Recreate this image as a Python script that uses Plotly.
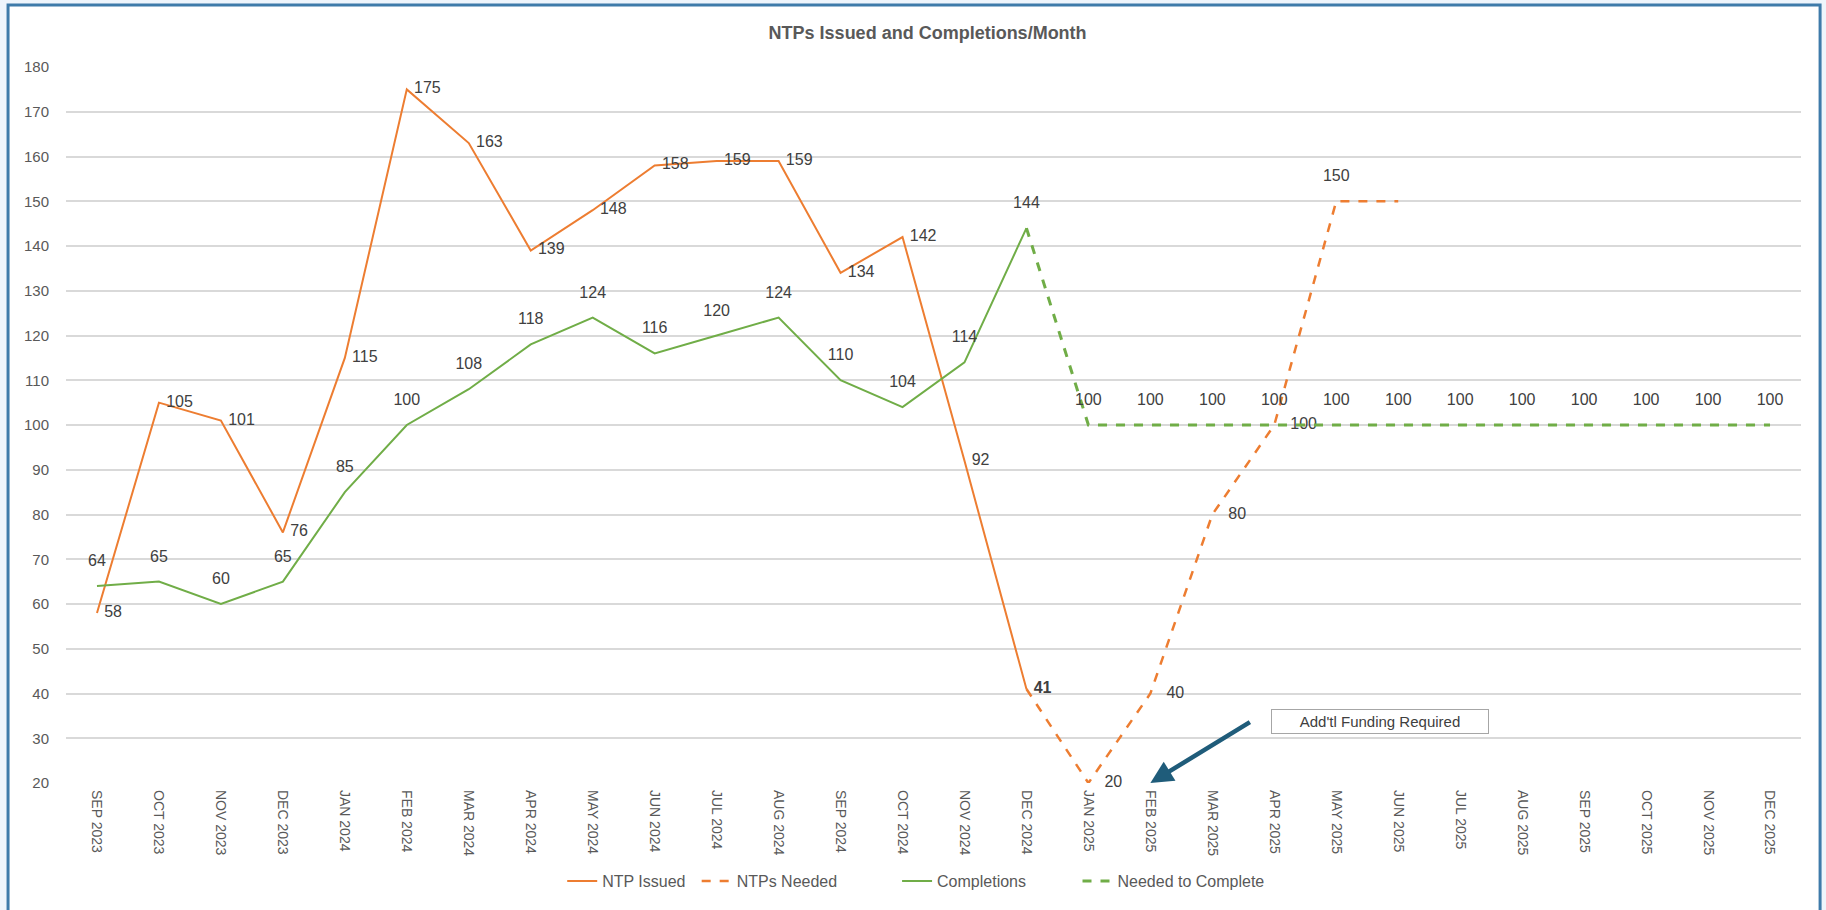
import plotly.graph_objects as go

months = [
    "SEP 2023", "OCT 2023", "NOV 2023", "DEC 2023",
    "JAN 2024", "FEB 2024", "MAR 2024", "APR 2024", "MAY 2024", "JUN 2024",
    "JUL 2024", "AUG 2024", "SEP 2024", "OCT 2024", "NOV 2024", "DEC 2024",
    "JAN 2025", "FEB 2025", "MAR 2025", "APR 2025", "MAY 2025", "JUN 2025",
    "JUL 2025", "AUG 2025", "SEP 2025", "OCT 2025", "NOV 2025", "DEC 2025",
]

ntp_issued = [58, 105, 101, 76, 115, 175, 163, 139, 148, 158, 159, 159, 134, 142, 92, 41]
ntps_needed = [41, 20, 40, 80, 100, 150, 150]
completions = [64, 65, 60, 65, 85, 100, 108, 118, 124, 116, 120, 124, 110, 104, 114, 144]
needed_to_complete = [144] + [100] * 12

ORANGE = "#ED7D31"
GREEN = "#70AD47"
FONT = "Liberation Sans Narrow, Arial Narrow, Liberation Sans, sans-serif"

issued_x = months[:len(ntp_issued)]
needed_x = months[len(ntp_issued) - 1:len(ntp_issued) - 1 + len(ntps_needed)]
compl_x = months[:len(completions)]
ntc_x = months[len(completions) - 1:]

issued_text = [str(v) for v in ntp_issued]
issued_text[-1] = "<b>41</b>"
needed_text = [""] + [str(v) for v in ntps_needed[1:-1]] + [""]
needed_pos = ["middle right"] * 5 + ["top center", "middle right"]
ntc_text = [""] + [str(v) for v in needed_to_complete[1:]]

label_font = dict(family=FONT, size=16, color="#404040")
ghost = dict(size=24, color="rgba(0,0,0,0)")
small = dict(size=10, color="rgba(0,0,0,0)")

fig = go.Figure()
fig.add_trace(go.Scatter(
    x=issued_x, y=ntp_issued, name="NTP Issued", legend="legend",
    mode="lines+markers+text", text=issued_text, textposition="middle right",
    textfont=label_font, marker=small, cliponaxis=False,
    line=dict(color=ORANGE, width=2),
))
fig.add_trace(go.Scatter(
    x=needed_x, y=ntps_needed, name="NTPs Needed", legend="legend2",
    mode="lines+markers+text", text=needed_text, textposition=needed_pos,
    textfont=label_font, marker=ghost, cliponaxis=False,
    line=dict(color=ORANGE, width=2.5, dash="dash"),
))
fig.add_trace(go.Scatter(
    x=compl_x, y=completions, name="Completions", legend="legend3",
    mode="lines+markers+text", text=[str(v) for v in completions], textposition="top center",
    textfont=label_font, marker=ghost, cliponaxis=False,
    line=dict(color=GREEN, width=2),
))
fig.add_trace(go.Scatter(
    x=ntc_x, y=needed_to_complete, name="Needed to Complete", legend="legend4",
    mode="lines+markers+text", text=ntc_text, textposition="top center",
    textfont=label_font, marker=ghost, cliponaxis=False,
    line=dict(color=GREEN, width=3, dash="dash"),
))

# frame around the chart area
fig.add_shape(
    type="rect", xref="paper", yref="paper",
    x0=-0.0334, x1=1.011, y0=-0.184, y1=1.0866,
    fillcolor="white", line=dict(color="#3E7BAA", width=3), layer="below",
)

# arrow + callout box
fig.add_annotation(
    x="FEB 2025", y=20, ax=18.63, ay=33.8, axref="x", ayref="y",
    xref="x", yref="y", text="", showarrow=True,
    arrowhead=2, arrowsize=1, arrowwidth=4.5, arrowcolor="#1F5C7A",
)
fig.add_annotation(
    x=20.7, y=33.8, xref="x", yref="y", text="Add'tl Funding Required",
    showarrow=False, font=dict(family=FONT, size=15, color="#404040"),
    bgcolor="white", bordercolor="#A6A6A6", borderwidth=1,
    width=214, height=21,
)

legend_style = dict(
    orientation="h", xanchor="left", y=-0.137, yanchor="middle",
    font=dict(family=FONT, size=16, color="#595959"), bgcolor="rgba(0,0,0,0)",
)

fig.update_layout(
    width=1826, height=910,
    margin=dict(l=66, r=25, t=67, b=127),
    paper_bgcolor="#EEF5FC", plot_bgcolor="white",
    font=dict(family=FONT, color="#595959"),
    title=dict(
        text="<b>NTPs Issued and Completions/Month</b>",
        x=0.508, xanchor="center", y=0.964, yanchor="middle", automargin=False,
        font=dict(family="Liberation Sans, Arial, sans-serif", size=18, color="#595959"),
    ),
    showlegend=True,
    legend=dict(x=0.286, **legend_style),
    legend2=dict(x=0.3635, **legend_style),
    legend3=dict(x=0.479, **legend_style),
    legend4=dict(x=0.583, **legend_style),
    xaxis=dict(
        type="category", categoryorder="array", categoryarray=months,
        range=[-0.5, len(months) - 0.5], tickangle=90, automargin=False,
        tickfont=dict(family=FONT, size=14, color="#595959"),
        showgrid=False, showline=False, ticks="", ticklabelstandoff=6,
    ),
    yaxis=dict(
        range=[20, 180], dtick=10, tick0=20, automargin=False,
        tickfont=dict(family=FONT, size=15, color="#595959"),
        gridcolor="#D9D9D9", gridwidth=1.5, zeroline=False, showline=False,
        ticks="", ticklabelstandoff=16,
    ),
)

fig.write_html(
    "out.html",
    config={"displayModeBar": False},
    post_script="document.body.style.margin='0';",
)
